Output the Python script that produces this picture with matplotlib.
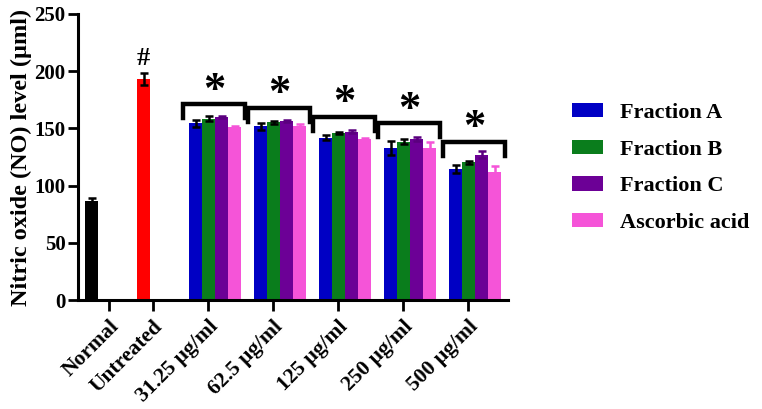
import numpy as np
import matplotlib.pyplot as plt
from matplotlib.patches import Patch

plt.rcParams['font.family'] = ['Liberation Serif', 'DejaVu Serif']
plt.rcParams['font.weight'] = 'bold'

# data
categories = ["Normal", "Untreated", "31.25 µg/ml", "62.5 µg/ml",
              "125 µg/ml", "250 µg/ml", "500 µg/ml"]
control_vals = [86.5, 193.0]
control_err = [3.0, 5.0]

series = ["Fraction A", "Fraction B", "Fraction C", "Ascorbic acid"]
frac_a = [154.5, 152.0, 142.0, 133.0, 114.5]
frac_a_err = [3.0, 3.0, 2.5, 6.0, 3.5]
frac_b = [158.5, 155.3, 145.7, 138.4, 120.3]
frac_b_err = [2.0, 1.2, 1.0, 2.0, 1.5]
frac_c = [159.7, 156.5, 147.1, 140.7, 127.0]
frac_c_err = [1.0, 1.0, 1.5, 2.0, 3.0]
ascorbic = [151.0, 152.0, 140.7, 133.1, 112.2]
ascorbic_err = [1.5, 1.5, 0.5, 5.0, 4.5]
bracket_top = [171, 168, 160, 154.5, 138]

values = [frac_a, frac_b, frac_c, ascorbic]
errors = [frac_a_err, frac_b_err, frac_c_err, ascorbic_err]
colors = ["#0000c4", "#0a7d1c", "#6c0096", "#f554d8"]
ecolors = ["black", "black", "#5a007e", "#f554d8"]

# layout (x in pixels along the axis)
bw = 13
ctrl_left = [7, 59]
grp_left = 111
grp_step = 65
tick_pos = [31, 75, 130, 195, 260, 325, 390]

fig = plt.figure(figsize=(7.62, 4.09), dpi=100)
ax = fig.add_axes([78/762, 1-300/409, 430/762, 286/409])

ax.bar(np.array(ctrl_left) + bw/2, control_vals, width=bw,
       color=["black", "#ff0000"], yerr=control_err, ecolor="black",
       capsize=3, error_kw=dict(elinewidth=1.8, capthick=1.8))

starts = grp_left + grp_step*np.arange(len(frac_a))
for i in range(4):
    ax.bar(starts + bw*i + bw/2, values[i], width=bw, color=colors[i],
           yerr=errors[i], ecolor=ecolors[i], capsize=3,
           error_kw=dict(elinewidth=1.8, capthick=1.8))

for s, top in zip(starts, bracket_top):
    xl, xr = s - 6, s + 56
    ax.plot([xl, xl, xr, xr], [top-12, top, top, top-12], color="black",
            lw=3.2, solid_joinstyle="miter", clip_on=False)
    ax.text((xl+xr)/2, top+12, "*", ha="center", va="center",
            fontsize=32, fontweight="bold")

ax.text(ctrl_left[1] + bw/2, 211, "#", ha="center", va="center",
        fontsize=19, fontweight="bold")

ax.set_xlim(0, 430)
ax.set_ylim(0, 250)
ax.set_yticks(np.arange(0, 251, 50))
ax.set_xticks(tick_pos)
ax.set_xticklabels(categories, rotation=45, ha="right", rotation_mode="anchor",
                   fontsize=15.5, fontweight="bold")
ax.tick_params(axis="y", labelsize=15, width=2, length=7, pad=2)
ax.tick_params(axis="x", width=2, length=8, pad=4)
for lab in ax.get_yticklabels():
    lab.set_fontweight("bold")
for side in ["top", "right"]:
    ax.spines[side].set_visible(False)
for side in ["left", "bottom"]:
    ax.spines[side].set_linewidth(2.2)

ax.set_ylabel("Nitric oxide (NO) level (µml)", fontsize=17.5,
              fontweight="bold", labelpad=2)

handles = [Patch(facecolor=c, label=l) for c, l in zip(colors, series)]
fig.legend(handles=handles, loc="center left", bbox_to_anchor=(552/762, 1-168/409),
           frameon=False, fontsize=16, handlelength=1.4, handleheight=0.62,
           labelspacing=0.75, handletextpad=0.78)

fig.savefig("out.png", dpi=100)
